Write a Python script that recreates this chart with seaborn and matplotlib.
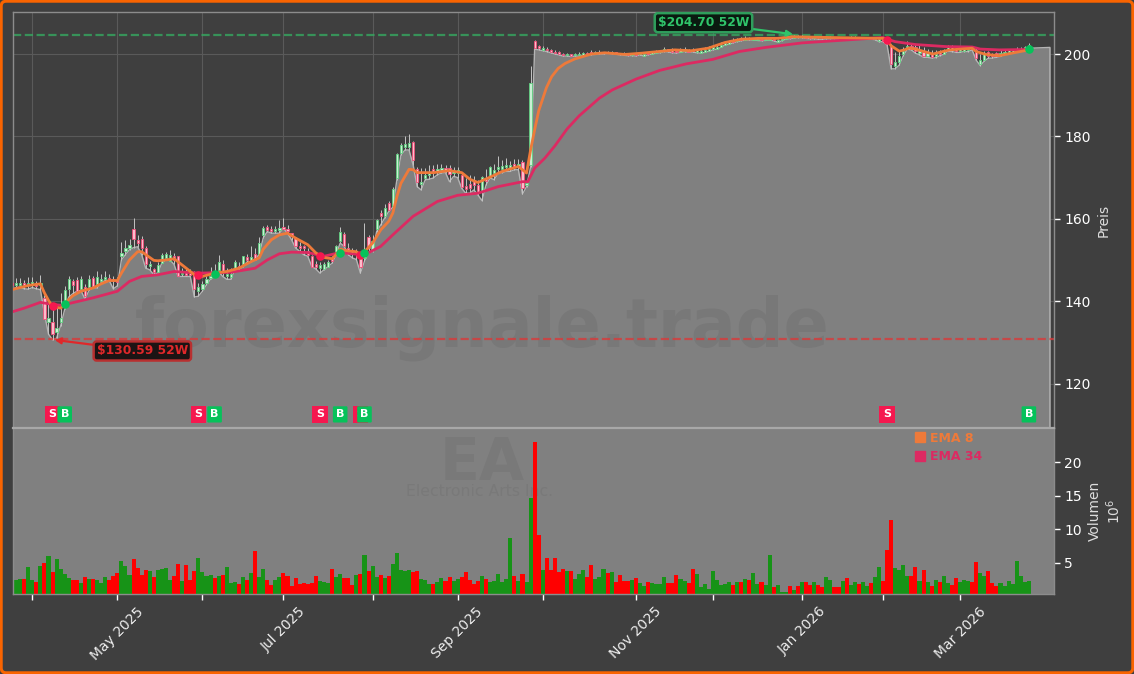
import matplotlib
matplotlib.use("Agg")
import matplotlib.pyplot as plt
from matplotlib.lines import Line2D
from matplotlib.patches import FancyBboxPatch
import numpy as np
import pandas as pd
import seaborn as sns

opens = [144.3,143.8,144.0,144.4,144.0,144.1,144.3,143.9,140.8,135.0,
135.0,132.5,135.0,140.0,143.0,144.8,145.2,142.9,143.4,143.4,
145.6,144.2,144.9,145.4,145.7,145.4,145.1,151.0,152.2,153.0,
157.5,154.8,155.0,152.9,148.5,147.9,147.0,149.2,150.4,149.8,
150.9,150.9,146.5,147.0,146.9,146.5,142.4,143.0,144.5,145.5,
147.0,147.6,149.0,146.0,145.9,148.0,148.6,148.9,150.7,150.0,
151.5,151.5,156.1,158.1,157.5,157.0,157.2,158.0,157.6,156.5,
155.3,153.5,153.4,152.1,150.9,149.0,148.0,147.8,148.4,150.5,
151.3,154.5,156.4,153.0,152.4,151.5,151.7,150.5,155.5,152.3,
157.4,161.4,160.7,163.8,163.2,169.9,175.9,177.4,177.4,178.6,
172.0,168.4,170.0,170.6,172.0,171.4,171.8,172.3,172.3,171.0,
171.2,170.7,168.0,168.4,169.4,168.2,166.8,170.0,170.3,171.2,
172.0,172.2,172.5,172.4,173.2,172.8,173.9,168.2,173.0,203.2,
202.0,201.0,201.3,200.9,200.6,200.4,200.0,199.7,199.9,199.7,
199.7,199.8,200.3,200.5,200.1,200.2,200.2,200.6,200.3,200.4,
200.2,200.1,199.9,199.7,199.9,199.9,199.6,200.2,200.1,200.3,
200.4,200.7,201.1,200.9,200.8,200.5,200.7,201.0,201.0,200.4,
200.3,200.5,200.8,201.1,201.3,201.7,202.3,202.5,203.2,203.1,
203.7,203.5,203.8,203.5,203.4,203.6,203.4,203.5,203.6,203.0,
203.3,203.7,204.0,204.0,204.3,204.1,204.2,204.1,203.9,204.0,
204.0,203.9,203.9,204.0,204.0,203.8,204.0,203.9,203.9,204.0,
203.8,203.8,203.9,203.7,203.2,203.6,203.7,202.0,197.0,198.0,
200.0,201.5,201.9,201.7,200.3,200.5,199.5,200.0,199.4,200.4,
200.1,201.0,201.6,201.3,200.7,200.8,200.9,201.5,201.0,197.6,
198.6,200.4,199.9,200.2,199.7,200.1,200.4,200.6,200.8,200.9,
201.1,201.5]

closes = [143.9,144.3,144.5,143.8,144.5,144.6,143.7,144.4,135.6,136.0,
132.0,133.5,136.0,142.8,145.4,144.0,142.4,145.3,141.3,145.3,
143.4,145.9,145.3,145.8,145.3,145.0,144.6,151.8,153.0,153.6,
155.0,154.2,152.9,148.9,148.9,147.1,148.7,151.2,151.4,151.3,
150.1,146.0,146.9,146.4,146.3,143.0,143.5,144.2,145.3,146.2,
146.6,149.4,147.1,146.7,146.5,149.6,148.0,150.9,149.9,150.6,
150.1,154.1,157.7,157.3,157.1,157.5,157.7,157.6,157.0,155.8,
153.3,153.0,152.8,151.3,148.4,148.4,148.7,148.9,149.4,149.8,
153.3,156.7,153.3,152.4,151.8,152.0,148.4,151.5,152.9,154.5,
159.6,160.6,162.6,162.2,167.2,175.8,177.8,178.2,178.5,174.3,
169.0,168.9,170.6,171.2,171.2,172.0,172.4,171.6,170.9,171.6,
171.8,167.7,167.2,167.4,168.2,166.2,170.1,169.2,172.5,171.8,
172.6,172.8,173.0,173.0,172.6,173.2,167.4,168.6,193.0,201.5,
201.4,201.4,200.9,200.6,200.3,200.0,199.7,200.0,199.6,200.1,
200.1,200.2,199.9,200.1,200.4,200.6,200.4,200.3,200.5,200.2,
200.0,199.9,199.7,200.0,199.7,200.2,199.9,200.0,200.4,200.6,
200.7,201.2,200.7,200.5,200.4,201.0,201.2,200.6,200.7,200.9,
200.8,201.0,201.3,201.6,201.8,202.3,202.7,202.9,202.9,203.5,
203.4,203.9,203.6,203.7,203.6,203.4,203.7,203.7,203.4,203.3,
203.6,203.9,203.8,204.3,204.1,204.3,204.0,203.9,204.1,203.8,
203.8,204.1,204.1,203.8,203.8,204.0,203.8,204.1,204.1,203.8,
204.0,204.0,203.7,203.9,203.6,203.2,202.6,197.5,198.0,199.5,
200.8,201.9,201.3,200.7,200.9,199.6,200.2,199.3,200.0,199.9,
200.7,201.7,201.0,200.8,201.2,201.2,201.3,201.2,199.0,198.6,
200.3,199.4,199.4,199.5,200.3,200.6,200.9,200.9,201.1,201.3,
201.7,202.3]

highs = [145.2,145.6,145.7,145.1,145.9,145.8,145.0,146.3,141.5,139.5,
138.0,139.2,142.0,143.6,146.0,145.4,145.8,146.1,144.1,146.3,
146.2,147.3,146.6,147.4,146.7,146.2,145.9,154.4,154.8,155.2,
160.2,156.0,155.7,153.4,149.8,148.0,149.5,151.8,152.0,152.3,
151.6,151.0,148.0,147.7,147.8,147.3,144.3,145.0,146.2,148.2,
149.0,151.1,150.0,148.0,148.0,150.0,149.6,151.0,151.5,153.3,
153.0,155.5,158.3,158.6,158.2,158.3,159.6,160.2,158.6,156.6,
155.6,154.3,153.6,152.8,151.2,149.8,149.4,149.6,150.0,151.0,
153.6,158.0,156.7,154.0,153.0,152.6,152.0,159.0,156.0,156.0,
160.0,162.1,163.5,164.2,167.8,176.0,178.3,180.0,180.5,178.8,
172.6,172.3,172.3,173.0,173.0,173.4,173.2,173.0,173.1,172.6,
172.5,171.3,169.8,170.6,170.3,169.5,170.4,172.0,172.8,173.4,
175.3,174.2,174.7,174.0,174.4,174.5,174.3,169.6,197.0,203.5,
202.3,201.9,201.7,201.2,200.9,200.7,200.3,200.2,200.1,200.3,
200.4,200.4,200.6,200.9,200.7,200.9,200.6,200.8,200.7,200.5,
200.3,200.4,200.1,200.2,200.1,200.4,200.0,200.5,200.6,200.9,
201.0,201.6,201.3,201.5,201.2,201.5,201.7,201.3,201.5,201.2,
201.1,201.6,201.9,202.2,202.4,202.8,203.2,203.3,203.8,204.0,
204.2,204.3,204.1,204.0,203.9,203.9,204.0,204.0,203.9,203.7,
203.9,204.2,204.4,204.7,204.5,204.5,204.4,204.3,204.3,204.2,
204.2,204.3,204.3,204.2,204.2,204.2,204.2,204.3,204.3,204.2,
204.2,204.2,204.1,204.1,203.8,203.9,203.7,202.5,200.5,201.0,
201.6,203.2,202.5,202.4,202.4,201.8,201.3,201.0,200.9,201.0,
201.2,202.2,202.1,201.8,201.7,201.6,201.6,202.0,201.5,199.9,
200.7,200.7,200.3,200.5,201.0,201.2,201.2,201.3,201.6,201.7,
202.0,202.6]

lows = [142.9,143.3,143.4,143.0,142.9,143.3,143.0,142.8,137.0,132.0,
130.6,131.0,134.0,138.0,141.0,141.8,142.4,142.6,140.5,142.6,
143.2,143.2,144.5,145.0,145.0,143.0,143.7,150.0,151.3,152.5,
153.0,153.2,151.3,148.0,147.6,146.4,146.9,149.3,150.0,150.0,
148.9,146.0,146.0,146.0,146.0,141.0,141.2,142.4,144.0,145.3,
146.4,147.2,146.0,145.3,145.3,147.6,147.6,148.4,149.5,149.6,
150.3,151.3,155.3,156.9,156.5,156.5,156.5,157.7,156.5,154.9,
152.9,152.1,151.3,150.9,148.4,147.8,146.8,147.6,148.4,149.2,
151.3,154.1,153.3,151.3,150.5,150.1,146.8,149.7,151.8,152.0,
156.9,158.5,160.2,161.8,162.8,169.5,175.5,176.7,176.7,173.1,
167.8,167.0,169.5,169.6,169.9,170.7,171.1,171.2,169.0,170.3,
170.0,167.4,166.2,166.2,167.0,165.8,164.4,168.2,169.9,169.5,
171.1,171.2,171.5,171.5,171.9,171.9,166.0,167.8,172.5,201.2,
201.0,200.8,200.6,200.3,200.0,199.8,199.5,199.5,199.4,199.5,
199.5,199.6,199.7,199.8,199.9,200.0,200.0,200.2,200.1,200.0,
199.8,199.7,199.6,199.6,199.5,199.8,199.5,199.8,200.0,200.2,
200.3,200.6,200.5,200.3,200.2,200.4,200.6,200.4,200.5,200.3,
200.2,200.4,200.7,201.0,201.2,201.6,202.2,202.4,202.7,203.0,
203.2,203.4,203.4,203.4,203.3,203.2,203.3,203.4,203.2,202.9,
203.2,203.6,203.7,203.9,204.0,204.0,203.8,203.7,203.7,203.6,
203.6,203.7,203.7,203.7,203.6,203.6,203.7,203.7,203.7,203.7,
203.7,203.6,203.6,203.5,203.0,203.0,202.2,196.4,196.4,197.3,
199.6,201.2,201.0,200.2,199.8,199.2,199.2,199.0,199.1,199.6,
199.9,200.7,200.6,200.4,200.4,200.6,200.6,201.0,198.5,197.2,
198.3,199.0,199.0,199.2,199.4,199.9,200.2,200.4,200.6,200.7,
201.0,201.4]

volumes = [2.6,2.46,2.6,2.6,4.4,2.5,2.2,4.55,5.0,6.0,
3.65,5.6,4.1,3.35,2.75,2.46,2.46,2.0,2.9,2.6,
2.6,2.46,2.0,2.9,2.46,3.05,3.5,5.3,4.55,3.2,
5.6,4.25,3.2,3.95,3.8,2.9,3.95,4.1,4.25,2.46,
3.05,4.85,2.3,4.7,2.46,3.8,5.75,3.65,3.05,3.2,
2.75,3.05,3.2,4.4,2.0,2.15,1.85,2.9,2.46,3.5,
6.8,2.9,4.1,2.46,1.7,2.46,2.9,3.5,3.05,1.55,
2.75,1.85,2.0,1.85,2.0,3.05,2.3,2.15,2.0,4.1,
2.9,3.35,2.75,2.75,1.7,3.2,3.35,6.2,3.8,4.55,
2.9,3.2,2.75,3.05,4.85,6.4,3.95,3.8,3.95,3.65,
3.8,2.6,2.46,1.85,1.85,2.15,2.75,2.3,2.9,2.3,
2.6,2.9,3.65,2.46,1.85,2.3,3.05,2.6,2.15,2.3,
3.35,2.15,2.6,8.7,3.05,2.3,3.35,2.15,14.7,22.95,
9.2,3.95,5.75,3.95,5.75,3.65,4.1,3.8,3.8,2.6,
3.35,3.95,2.9,4.7,2.6,2.9,4.1,3.5,3.65,2.15,
3.2,2.3,2.3,2.46,2.75,2.0,1.55,2.15,2.0,1.85,
1.85,2.9,2.0,2.0,3.2,2.6,2.3,2.0,4.1,3.35,
1.4,1.85,1.1,3.8,2.46,1.7,1.85,2.15,1.7,2.15,
2.15,2.6,2.46,3.5,1.85,2.15,1.7,6.2,1.4,1.7,
0.67,0.67,1.57,0.97,1.57,2.17,2.17,1.7,2.17,1.7,
1.4,2.9,2.46,1.4,1.4,2.3,2.75,1.7,2.17,1.87,
2.17,1.57,2.0,2.9,4.4,2.3,6.9,11.4,4.25,3.95,
4.7,3.05,3.05,4.4,2.3,3.95,2.17,1.57,2.46,2.17,
3.05,2.0,1.7,2.75,2.17,2.46,2.3,2.17,5.15,3.5,
3.05,3.8,2.0,1.57,2.0,1.57,2.3,1.87,5.3,3.05,
2.17,2.3]

ema8_x = [0,4,7,8,9,10,12,13,14,15,17,20,22,24,26,27,29,31,32,33,35,36,38,40,43,45,47,50,53,56,59,61,62,64,66,68,70,73,75,77,79,80,81,83,85,86,87.5,89,91,93,94,95,96,98,99,100,104,108,111,113,115,118,121,125,127,128,129,130,131.9,133.2,134.8,136.5,138.9,143,146.3,151.3,155.4,159.5,163.6,167.7,171.8,176,180,184.2,189,192.4,202.6,215,216,217,219,220.3,221.5,223,227.3,231.4,237,238,240.4,243.7,247.8,251]
ema8_y = [142.8,143.8,144.2,142.0,140.2,138.7,138.3,139.2,140.4,141.3,142.4,143.2,144.2,145.0,145.0,146.8,150.0,152.0,152.0,151.3,149.9,149.8,150.0,150.3,148.0,146.4,146.0,146.8,147.2,148.0,149.6,150.5,152.6,154.9,156.1,156.5,155.3,153.7,151.7,150.6,150.3,151.3,152.6,152.2,152.0,151.3,152.5,154.1,157.3,159.4,161.4,165.4,168.6,172.0,171.9,171.2,171.2,171.7,171.2,169.6,168.8,170.1,171.5,172.7,171.1,176.7,181.6,186.2,191.8,194.5,196.5,197.7,198.8,200.0,200.3,199.9,200.2,200.6,201.0,200.8,201.4,202.8,203.6,203.8,203.8,204.2,204.0,203.8,203.4,202.0,200.7,201.0,201.5,201.2,200.0,201.0,201.4,200.6,199.9,199.6,200.4,201.0]

ema34_x = [0,3,7,10,13,14,20,26,29,32,36,40,46,54,60,63,66,69,73,77,81,86,87.5,91,94,99,105,110,115,120,126,127.3,129,131.5,134,137,140,145,148.2,154,159.8,166.4,173,179.5,186,195,202.7,215,216,218,223,230.6,237,239,243.7,251]
ema34_y = [137.4,138.3,139.7,139.2,138.9,139.4,140.8,142.4,144.8,146.0,146.4,147.2,146.8,147.0,148.0,150.0,151.5,151.9,151.8,150.9,151.8,151.3,151.5,153.3,156.1,160.6,164.2,165.7,166.2,167.8,169.0,169.0,172.3,174.7,177.7,181.8,185.0,189.3,191.3,193.9,196.0,197.6,198.7,200.6,201.6,202.7,203.2,204.0,203.6,203.0,202.3,201.8,201.7,201.2,201.0,201.1]

sell_idx = [10,46,76,86,216]
sell_y = [138.7,146.3,150.9,151.1,203.4]
buy_idx = [13,50,81,87,251]
buy_y = [139.2,146.6,151.7,151.8,201.1]

tick_idx = [5,26,47,67,89,110,131,154,173,195,215,234]
tick_labels = ["","May 2025","","Jul 2025","","Sep 2025","","Nov 2025","","Jan 2026","","Mar 2026"]
price_ticks = [120,140,160,180,200]
vol_ticks = [5,10,15,20]
high_52w = 204.70
low_52w = 130.59

BG = "#3f3f3f"
GRAY = "#808080"
ORANGE = "#ee7a3a"
CRIMSON = "#dc2a62"
SIGN_R = "#f5184f"
SIGN_G = "#06c25a"

sns.set_theme(style="dark", rc={"axes.facecolor": BG, "figure.facecolor": BG,
                                "axes.edgecolor": "#8c8c8c", "text.color": "white",
                                "xtick.color": "white", "ytick.color": "white",
                                "axes.labelcolor": "#e0e0e0"})
plt.rcParams["font.family"] = ["DejaVu Sans"]

W, H = 1134, 674
fig = plt.figure(figsize=(W / 100, H / 100), dpi=100, facecolor=BG)


def axes_px(x0, y0, x1, y1):
    return fig.add_axes([x0 / W, 1 - y1 / H, (x1 - x0) / W, (y1 - y0) / H])


ax = axes_px(13, 12, 1054, 428)
axv = axes_px(13, 428, 1054, 594)

df = pd.DataFrame({"i": np.arange(len(closes)), "open": opens, "close": closes,
                   "high": highs, "low": lows, "vol": volumes})
df["up"] = df["close"] >= df["open"]

xlim = (0.24, 257.2)
for a in (ax, axv):
    a.set_xlim(*xlim)
    a.set_xticks(tick_idx)
    a.set_axisbelow(True)
ax.set_ylim(109.2, 210.2)
axv.set_ylim(0.37, 25.07)

# price panel
ax.grid(True, color="#5a5a5a", lw=0.8)
ax.tick_params(axis="x", length=0, labelbottom=False)
ax.yaxis.tick_right()
ax.yaxis.set_label_position("right")
ax.set_yticks(price_ticks)
ax.tick_params(axis="y", length=4, width=1, labelsize=10, colors="white", right=True)
ax.set_ylabel("Preis", fontsize=10, labelpad=4, color="#dddddd")
for s in ax.spines.values():
    s.set_color("#8c8c8c")
    s.set_linewidth(1)

fill_x = np.append(df["i"].to_numpy(), [256.2])
fill_y = np.append(df["low"].to_numpy(), [201.6])
ax.fill_between(fill_x, fill_y, 109.2, color=GRAY, lw=0, zorder=1.5)
ax.plot(np.append(fill_x, fill_x[-1]), np.append(fill_y, 109.2), color="#b4b4b4", lw=1, zorder=1.6)

ax.text((482 - 13) / 1041, (428 - 328) / 416, "forexsignale.trade", transform=ax.transAxes,
        ha="center", va="center", fontsize=48, fontweight="bold", color="#787878", zorder=1.7)

ax.axhline(high_52w, color="#35a860", ls="--", lw=1.6, alpha=0.8, zorder=2)
ax.axhline(low_52w + 0.3, color="#d93a3a", ls="--", lw=1.6, alpha=0.8, zorder=2)

ax.vlines(df["i"], df["low"], df["high"], color="#c4c4c4", lw=0.7, zorder=3)
up = df[df["up"]]
dn = df[~df["up"]]
ax.bar(up["i"], up["close"] - up["open"], bottom=up["open"], width=0.55,
       facecolor="#c9efd3", edgecolor="#5fcf80", lw=0.6, zorder=3.2)
ax.bar(dn["i"], dn["close"] - dn["open"], bottom=dn["open"], width=0.55,
       facecolor="#fdbccc", edgecolor="#ef4f78", lw=0.6, zorder=3.2)

sns.lineplot(x=ema34_x, y=ema34_y, color=CRIMSON, lw=2, ax=ax, zorder=4, errorbar=None, sort=False)
sns.lineplot(x=ema8_x, y=ema8_y, color=ORANGE, lw=2, ax=ax, zorder=4.2, errorbar=None, sort=False)
ax.scatter(sell_idx, sell_y, s=38, color=SIGN_R, zorder=5, lw=0)
ax.scatter(buy_idx, buy_y, s=38, color=SIGN_G, zorder=5, lw=0)
ax.set_xlabel("")

for i in sell_idx:
    ax.text(i, 112.5, "S", ha="center", va="center", fontsize=8, fontweight="bold", color="white", zorder=6,
            bbox=dict(boxstyle="square,pad=0.33", fc=SIGN_R, ec="none"))
for i in buy_idx:
    ax.text(i, 112.5, "B", ha="center", va="center", fontsize=8, fontweight="bold", color="white", zorder=6,
            bbox=dict(boxstyle="round,pad=0.28,rounding_size=0.1", fc=SIGN_G, ec="none"))

ax.annotate("$130.59 52W", xy=(10.5, low_52w), xytext=(20.9, 127.9), fontsize=8.8, fontweight="bold",
            color="#e0282a", family="DejaVu Sans", parse_math=False, va="center", zorder=7,
            bbox=dict(boxstyle="round,pad=0.25", fc="#1c1414", ec="#b83030", lw=1.8),
            arrowprops=dict(arrowstyle="-|>", color="#e0282a", lw=1.6, shrinkA=0, shrinkB=0))
ax.annotate("$204.70 52W", xy=(192.8, 204.8), xytext=(159.4, 207.6), fontsize=8.8, fontweight="bold",
            color="#2fc46a", family="DejaVu Sans", parse_math=False, va="center", zorder=7,
            bbox=dict(boxstyle="round,pad=0.25", fc="#0a1a10", ec="#2f9e5c", lw=1.8),
            arrowprops=dict(arrowstyle="-|>", color="#2fc46a", lw=1.6, shrinkA=0, shrinkB=0))

# volume panel
axv.set_facecolor(GRAY)
axv.yaxis.tick_right()
axv.yaxis.set_label_position("right")
axv.set_yticks(vol_ticks)
axv.tick_params(axis="y", length=4, width=1, labelsize=10, colors="white", right=True)
axv.tick_params(axis="x", length=4, width=1, colors="white", bottom=True)
axv.set_ylabel("Volumen\n$10^{6}$", fontsize=10, labelpad=4, color="#dddddd", linespacing=1.15)
for s in axv.spines.values():
    s.set_color("#8c8c8c")
    s.set_linewidth(1)
axv.spines["top"].set_color("#a8a8a8")
axv.spines["top"].set_linewidth(1.6)

axv.text((482 - 13) / 1041, (594 - 463) / 166, "EA", transform=axv.transAxes, ha="center", va="center",
         fontsize=42, fontweight="bold", color="#797979", zorder=1)
axv.text((480 - 13) / 1041, (594 - 491) / 166, "Electronic Arts Inc.", transform=axv.transAxes, ha="center",
         va="center", fontsize=11.3, color="#797979", zorder=1)

df["dir"] = np.where(df["up"], "up", "down")
sns.barplot(data=df, x="i", y="vol", hue="dir", palette={"up": "#179317", "down": "#ff0000"},
            native_scale=True, dodge=False, width=1.0, legend=False, saturation=1, ax=axv, zorder=2, lw=0)
axv.set_xlim(*xlim)
axv.set_ylim(0.37, 25.07)
axv.set_xticks(tick_idx)
axv.set_xticklabels(tick_labels, rotation=45, ha="center", fontsize=10, color="#eeeeee")
axv.set_xlabel("")

handles = [Line2D([], [], ls="", marker="s", ms=7, color=ORANGE),
           Line2D([], [], ls="", marker="s", ms=7, color=CRIMSON)]
leg = axv.legend(handles, ["EMA 8", "EMA 34"], loc="upper left", frameon=False,
                 bbox_to_anchor=((905 - 13) / 1041, 1.03), prop={"weight": "bold", "size": 9},
                 labelcolor=[ORANGE, CRIMSON], handlelength=1.0, handletextpad=0.3,
                 labelspacing=0.45, borderpad=0.2)

border = FancyBboxPatch((1.2, 1.2), W - 2.4, H - 2.4, boxstyle="round,pad=0,rounding_size=5",
                        transform=None, fc="none", ec="#f96400", lw=2.2, zorder=20)
fig.add_artist(border)

fig.savefig("out.png", dpi=100, facecolor=BG)
